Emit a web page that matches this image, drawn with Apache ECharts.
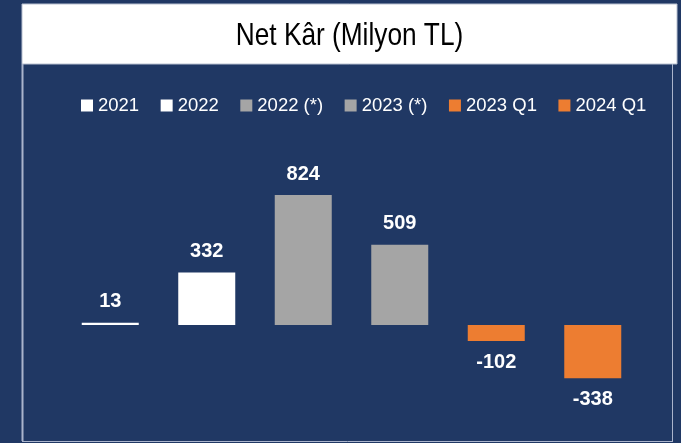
<!doctype html>
<html>
<head>
<meta charset="utf-8" />
<script src="https://cdn.jsdelivr.net/npm/echarts@6/dist/echarts.min.js"></script>
<style>
html, body { margin: 0; padding: 0; background: #203864; }
#chart { width: 681px; height: 443px; }
</style>
</head>
<body>
<div id="chart"></div>
<script>
const categories = ["2021", "2022", "2022 (*)", "2023 (*)", "2023 Q1", "2024 Q1"];
const values = [13, 332, 824, 509, -102, -338];
const colors = ["#ffffff", "#ffffff", "#a5a5a5", "#a5a5a5", "#ed7d31", "#ed7d31"];

const chart = echarts.init(document.getElementById('chart'));

// one series per category so each gets its own legend entry
let series = categories.map((name, i) => {
    let data = categories.map((c, j) => j == i ? values[i] : '-');
    return {
        name: name,
        type: 'bar',
        stack: 'all',
        barWidth: 57,
        itemStyle: { color: colors[i] },
        label: {
            show: true,
            position: values[i] >= 0 ? 'top' : 'bottom',
            distance: 11,
            color: '#ffffff',
            fontFamily: 'Liberation Sans',
            fontWeight: 'bold',
            fontSize: 20
        },
        data: data
    };
});

chart.setOption({
    backgroundColor: '#203864',
    animation: false,
    legend: {
        top: 91,
        left: 76,
        itemWidth: 12,
        itemHeight: 12,
        itemGap: 21.5,
        icon: 'rect',
        textStyle: { color: '#ffffff', fontFamily: 'Liberation Sans', fontSize: 18.5 },
        data: categories
    },
    grid: { left: 62, right: 40, top: 183, height: 205 },
    xAxis: {
        type: 'category',
        data: categories,
        show: false
    },
    yAxis: {
        type: 'value',
        min: -400,
        max: 900,
        show: false
    },
    graphic: [
        { type: 'rect', shape: { x: 22, y: 4, width: 655, height: 60 }, style: { fill: '#ffffff', stroke: '#b8c0d0', lineWidth: 1 } },
        { type: 'text', x: 349.5, y: 36, scaleX: 0.82, style: { text: 'Net Kâr (Milyon TL)', fill: '#000000', font: '32px "Liberation Sans"', textAlign: 'center', textVerticalAlign: 'middle' } },
        { type: 'line', shape: { x1: 22.5, y1: 64, x2: 22.5, y2: 441 }, style: { stroke: '#aab4cc', lineWidth: 2 } },
        { type: 'line', shape: { x1: 672.5, y1: 64, x2: 672.5, y2: 441 }, style: { stroke: '#aab4cc', lineWidth: 1 } },
        { type: 'line', shape: { x1: 22, y1: 441.5, x2: 673, y2: 441.5 }, style: { stroke: '#aab4cc', lineWidth: 1 } }
    ],
    series: series
});
</script>
</body>
</html>
